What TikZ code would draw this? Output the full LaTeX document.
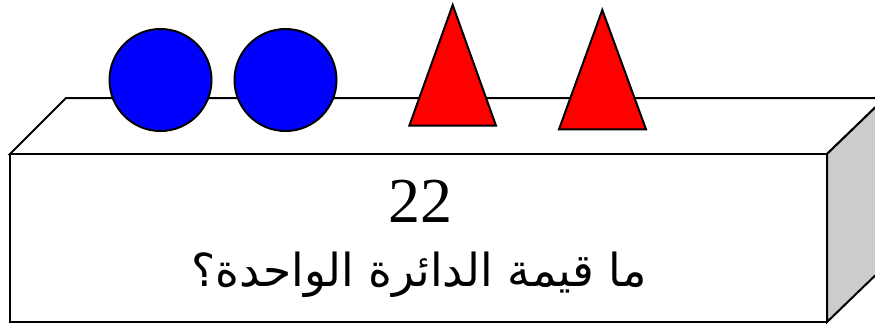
\documentclass[tikz,border=0pt]{standalone}
\usepackage{fontspec}
\setmainfont{Liberation Serif}
\newfontfamily\arabicfont[Script=Arabic]{DejaVu Sans}
\TeXXeTstate=1
\begin{document}
\begin{tikzpicture}[x=1pt,y=-1pt,
  edge/.style={draw=black,line width=2pt,line join=miter},
  disc/.style={edge,fill=blue},
  tri/.style={edge,fill=red}]
\useasboundingbox (0,0) rectangle (875,325);
\begin{scope}
\clip (0,0) rectangle (875,325);
% top face
\draw[edge,fill=white] (10,154) -- (66,98) -- (885,98) -- (827,154) -- cycle;
% right face
\draw[edge,fill=black!20] (827,154) -- (885,98) -- (885,266) -- (827,322) -- cycle;
% front face
\draw[edge,fill=white] (10,154) rectangle (827,322);
\end{scope}
% circles
\draw[disc] (160.5,80) circle (51);
\draw[disc] (285.5,80) circle (51);
% triangles
\draw[tri] (452.7,5) -- (496,125.7) -- (409.3,125.7) -- cycle;
\draw[tri] (602.3,10) -- (646,129.3) -- (559,129.3) -- cycle;
% texts
\node[anchor=base,inner sep=0pt,font=\fontsize{64}{70}\selectfont] (num) at (420,222) {22};
\node[anchor=base,inner sep=0pt,font=\fontsize{45.5}{50}\selectfont\arabicfont] (q) at (419,286) {\beginR ما قيمة الدائرة الواحدة؟\endR};
\end{tikzpicture}
\end{document}
